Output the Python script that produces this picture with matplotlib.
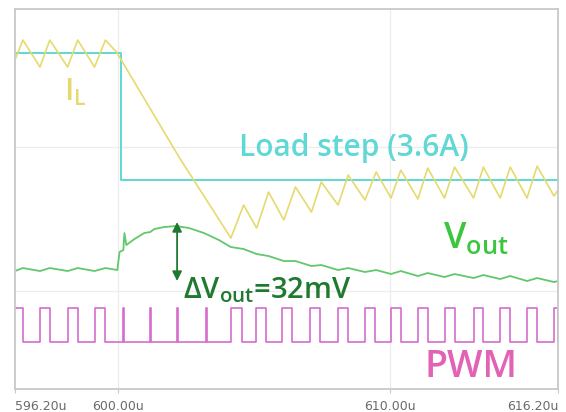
"""Load-step transient: inductor current, load step, Vout and PWM."""

import matplotlib as mpl
import matplotlib.pyplot as plt

mpl.use("Agg")

# ---- data (time in us, level in screen units) ----
il_t = [596.20, 596.49, 597.12, 597.48, 598.14, 598.51, 599.13, 599.53, 599.94,
        602.24, 604.15, 604.62, 605.10, 605.54, 606.10, 606.53, 607.12, 607.48,
        608.10, 608.47, 609.09, 609.50, 610.05, 610.41, 611.04, 611.40, 612.02,
        612.39, 613.09, 613.45, 614.07, 614.44, 615.06, 615.43, 616.05, 616.20]
il_v = [329, 349, 322, 349, 322, 349, 322, 349, 337,
        232, 151, 184, 161, 197, 169, 202, 177, 207,
        184, 214, 189, 217, 191, 219, 190, 221, 191,
        222, 191, 222, 191, 222, 191, 223, 193, 199]

load_t = [596.20, 600.12, 600.12, 616.20]
load_v = [336, 336, 209, 209]

vout_t = [596.20, 596.49, 597.12, 597.48, 598.14, 598.51, 599.13, 599.53, 599.97,
          600.05, 600.19, 600.23, 600.30, 600.60, 600.96, 601.18, 601.33, 601.69,
          602.13, 602.61, 603.16, 603.71, 604.15, 604.62, 605.10, 605.54, 606.10,
          606.53, 607.12, 607.48, 608.10, 608.47, 609.09, 609.50, 610.05, 610.41,
          611.04, 611.40, 612.02, 612.39, 613.09, 613.45, 614.07, 614.44, 615.06,
          615.43, 616.05, 616.20]
vout_v = [118, 121, 118, 121, 118, 121, 118, 121, 119,
          137, 139, 156, 144, 150, 156, 157, 160, 162,
          163, 161, 156, 149, 142, 140, 135, 133, 128,
          128, 123, 124, 119, 121, 117, 119, 115, 118,
          113, 116, 112, 115, 111, 114, 110, 113, 108,
          111, 107, 108]

pwm_rise = [596.20, 597.12, 598.14, 599.13, 600.19, 601.18, 602.17, 603.23,
            604.15, 605.08, 606.05, 607.08, 608.10, 609.09, 610.05, 611.04,
            612.02, 613.09, 614.07, 615.06, 616.05]
pwm_fall = [596.49, 597.48, 598.51, 599.53, 600.22, 601.21, 602.20, 603.26,
            604.55, 605.45, 606.42, 607.45, 608.45, 609.45, 610.41, 611.40,
            612.39, 613.45, 614.44, 615.43, 616.20]
PWM_HIGH = 81
PWM_LOW = 47

x_ticks = [596.2, 600.0, 610.0, 616.2]
x_tick_labels = ["596.20u", "600.00u", "610.00u", "616.20u"]
grid_y = [98, 242]

# ---- style ----
C_IL = "#e6da6e"
C_LOAD = "#5fd8d6"
C_VOUT = "#62c86c"
C_PWM = "#d56cce"
C_DELTA = "#1f7a30"
C_FRAME = "#c8c8c8"

plt.rcParams["font.family"] = ["Open Sans", "DejaVu Sans"]

fig = plt.figure(figsize=(5.66, 4.12), dpi=100)
ax = fig.add_axes([0.0265, 0.0558, 0.9594, 0.9222])
ax.set_xlim(596.2, 616.2)
ax.set_ylim(0, 380)

# grid and frame
for t in x_ticks[1:3]:
    ax.axvline(t, color="#ececec", lw=0.9, zorder=0)
for y in grid_y:
    ax.axhline(y, color="#ececec", lw=0.9, zorder=0)
for s in ax.spines.values():
    s.set_color(C_FRAME)
    s.set_linewidth(1.3)

ax.set_yticks([])
ax.set_xticks(x_ticks)
ax.set_xticklabels(x_tick_labels, fontsize=9, color="#6a6a6a",
                   family="DejaVu Sans")
ax.tick_params(axis="x", length=3, color=C_FRAME, pad=5)
labels = ax.get_xticklabels()
labels[0].set_ha("left")
labels[-1].set_ha("right")

# PWM built as a step waveform from its edges
pwm_t, pwm_v = [], []
for r, f in zip(pwm_rise, pwm_fall):
    pwm_t += [r, f]
    pwm_v += [PWM_HIGH, PWM_LOW]
ax.plot(pwm_t, pwm_v, drawstyle="steps-post", color=C_PWM, lw=1.2)

ax.plot(load_t, load_v, color=C_LOAD, lw=1.4)
ax.plot(il_t, il_v, color=C_IL, lw=1.2)
ax.plot(vout_t, vout_v, color=C_VOUT, lw=1.3)

# delta-Vout arrow
ax.annotate("", xy=(602.17, 167), xytext=(602.17, 108),
            arrowprops=dict(arrowstyle="<|-|>", color=C_DELTA, lw=1.3,
                            mutation_scale=14, shrinkA=0, shrinkB=0))

# labels
ax.text(598.0, 297, r"I$_\mathregular{L}$", color=C_IL, fontsize=22,
        fontweight="semibold", ha="left", va="center")
ax.text(604.45, 241, "Load step (3.6A)", color=C_LOAD, fontsize=21.5,
        fontweight="semibold", ha="left", va="center")
ax.text(611.95, 141, r"V$_\mathregular{out}$", color="#3dc63d", fontsize=26,
        fontweight="semibold", ha="left", va="baseline")
ax.text(602.4, 91, r"ΔV$_\mathregular{out}$=32mV", color=C_DELTA, fontsize=21,
        fontweight="semibold", ha="left", va="baseline")
ax.text(613.0, 12, "PWM", color="#e262b6", fontsize=27,
        fontweight="semibold", ha="center", va="baseline")

fig.savefig("out.png", dpi=100)
